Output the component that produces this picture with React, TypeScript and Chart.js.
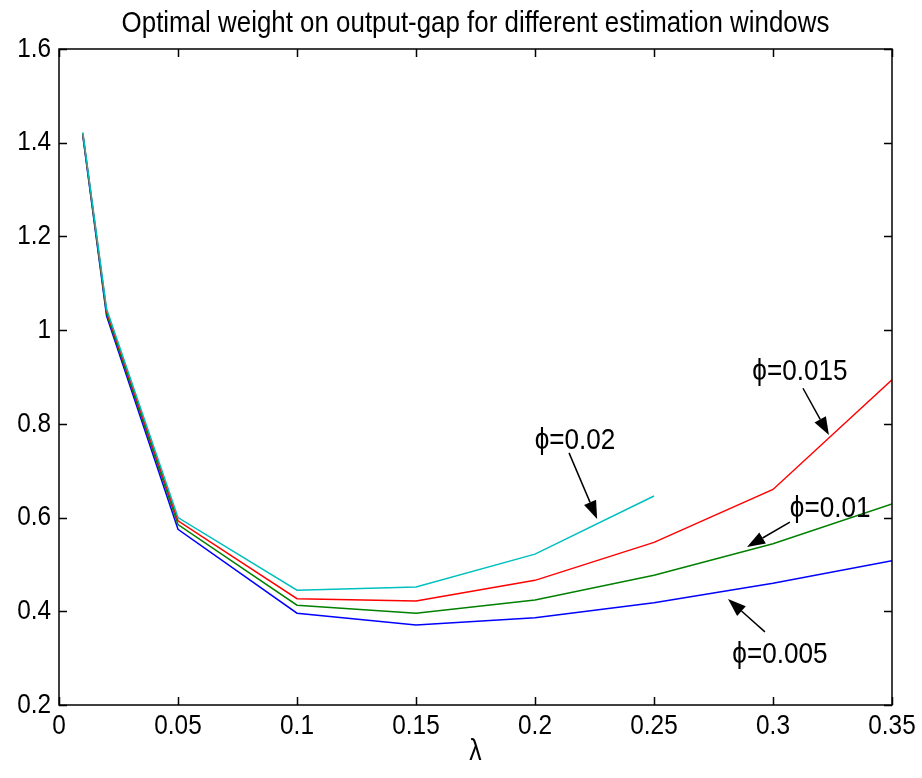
import React, { useEffect, useRef } from "react";
import { Chart, registerables } from "chart.js";

Chart.register(...registerables);

// ---- data ----
const lambdas = [0.01, 0.02, 0.05, 0.1, 0.15, 0.2, 0.25, 0.3, 0.35];
const phi005 = [1.415, 1.03, 0.575, 0.396, 0.371, 0.386, 0.418, 0.46, 0.508];
const phi01 = [1.418, 1.035, 0.585, 0.413, 0.396, 0.424, 0.477, 0.544, 0.629];
const phi015 = [1.42, 1.04, 0.593, 0.427, 0.422, 0.466, 0.547, 0.66, 0.894];
const phi02 = [1.422, 1.045, 0.6, 0.445, 0.452, 0.522, 0.646];

const xTickValues = [0, 0.05, 0.1, 0.15, 0.2, 0.25, 0.3, 0.35];
const xTickLabels = ["0", "0.05", "0.1", "0.15", "0.2", "0.25", "0.3", "0.35"];
const yTickValues = [0.2, 0.4, 0.6, 0.8, 1.0, 1.2, 1.4, 1.6];
const yTickLabels = ["0.2", "0.4", "0.6", "0.8", "1", "1.2", "1.4", "1.6"];

const titleText = "Optimal weight on output-gap for different estimation windows";
const xAxisTitle = "λ";

// annotation labels: text position and arrow (tail -> tip) in data units
const annLabels = ["ϕ=0.02", "ϕ=0.015", "ϕ=0.01", "ϕ=0.005"];
const annTextX = [0.2168, 0.3113, 0.324, 0.3029];
const annTextY = [0.763, 0.911, 0.618, 0.307];
const annTailX = [0.2143, 0.3126, 0.3071, 0.2966];
const annTailY = [0.738, 0.876, 0.5905, 0.356];
const annTipX = [0.2261, 0.3235, 0.2891, 0.2811];
const annTipY = [0.597, 0.776, 0.537, 0.426];

const FONT = "'Liberation Sans', Arial, Helvetica, 'DejaVu Sans', sans-serif";

const toPts = (ys: number[]) => ys.map((y, i) => ({ x: lambdas[i], y }));

// draws horizontally condensed text (mimics the MATLAB Helvetica export)
function drawText(
  ctx: CanvasRenderingContext2D,
  text: string,
  x: number,
  y: number,
  size: number,
  sx: number,
  align: CanvasTextAlign
) {
  ctx.save();
  ctx.translate(x, y);
  ctx.scale(sx, 1);
  ctx.font = `${size}px ${FONT}`;
  ctx.textAlign = align;
  ctx.textBaseline = "middle";
  ctx.fillStyle = "#000";
  ctx.fillText(text, 0, 0);
  ctx.restore();
}

const framePlugin = {
  id: "matlabFrame",
  afterDatasetsDraw(chart: any) {
    const { ctx, chartArea: a, scales } = chart;
    const xs = scales.x;
    const ys = scales.y;
    ctx.save();
    ctx.strokeStyle = "#000";
    ctx.lineWidth = 1.5;
    ctx.strokeRect(a.left, a.top, a.right - a.left, a.bottom - a.top);
    const L = 8;
    ctx.beginPath();
    for (const v of xTickValues) {
      const px = Math.round(xs.getPixelForValue(v)) + 0.5;
      ctx.moveTo(px, a.bottom);
      ctx.lineTo(px, a.bottom - L);
      ctx.moveTo(px, a.top);
      ctx.lineTo(px, a.top + L);
    }
    for (const v of yTickValues) {
      const py = Math.round(ys.getPixelForValue(v)) + 0.5;
      ctx.moveTo(a.left, py);
      ctx.lineTo(a.left + L, py);
      ctx.moveTo(a.right, py);
      ctx.lineTo(a.right - L, py);
    }
    ctx.stroke();

    // tick labels
    xTickValues.forEach((v, i) => {
      drawText(ctx, xTickLabels[i], xs.getPixelForValue(v), a.bottom + 21, 28, 0.87, "center");
    });
    yTickValues.forEach((v, i) => {
      drawText(ctx, yTickLabels[i], a.left - 8, ys.getPixelForValue(v), 28, 0.87, "right");
    });
    // title and axis title
    drawText(ctx, titleText, (a.left + a.right) / 2, 24, 29, 0.893, "center");
    drawText(ctx, xAxisTitle, (a.left + a.right) / 2, 752, 29, 0.85, "center");

    // annotations
    ctx.fillStyle = "#000";
    for (let i = 0; i < annLabels.length; i++) {
      const tx = xs.getPixelForValue(annTextX[i]);
      const ty = ys.getPixelForValue(annTextY[i]);
      drawText(ctx, annLabels[i], tx, ty, 29, 0.9, "center");
      const x0 = xs.getPixelForValue(annTailX[i]);
      const y0 = ys.getPixelForValue(annTailY[i]);
      const x1 = xs.getPixelForValue(annTipX[i]);
      const y1 = ys.getPixelForValue(annTipY[i]);
      const ang = Math.atan2(y1 - y0, x1 - x0);
      const hl = 18;
      const hw = 6.5;
      const bx = x1 - hl * Math.cos(ang);
      const by = y1 - hl * Math.sin(ang);
      ctx.beginPath();
      ctx.moveTo(x0, y0);
      ctx.lineTo(bx, by);
      ctx.lineWidth = 1.5;
      ctx.stroke();
      ctx.beginPath();
      ctx.moveTo(x1, y1);
      ctx.lineTo(bx + hw * Math.sin(ang), by - hw * Math.cos(ang));
      ctx.lineTo(bx - hw * Math.sin(ang), by + hw * Math.cos(ang));
      ctx.closePath();
      ctx.fill();
    }
    ctx.restore();
  },
};

export default function App() {
  const canvasRef = useRef<HTMLCanvasElement | null>(null);

  useEffect(() => {
    document.body.style.margin = "0";
    const canvas = canvasRef.current;
    if (!canvas) return;
    const chart = new Chart(canvas, {
      type: "line",
      data: {
        datasets: [
          { label: "ϕ=0.005", data: toPts(phi005), borderColor: "#0000ff", order: 4 },
          { label: "ϕ=0.01", data: toPts(phi01), borderColor: "#008000", order: 3 },
          { label: "ϕ=0.015", data: toPts(phi015), borderColor: "#ff0000", order: 2 },
          { label: "ϕ=0.02", data: toPts(phi02), borderColor: "#00bfbf", order: 1 },
        ].map((d) => ({
          ...d,
          borderWidth: 1.5,
          pointRadius: 0,
          tension: 0,
          fill: false,
        })),
      },
      options: {
        animation: false,
        responsive: false,
        maintainAspectRatio: false,
        devicePixelRatio: 1,
        layout: { padding: { left: 0, right: 30, top: 49, bottom: 0 } },
        plugins: {
          legend: { display: false },
          tooltip: { enabled: false },
          title: { display: false },
        },
        scales: {
          x: {
            type: "linear",
            min: 0,
            max: 0.35,
            grid: { display: false, drawTicks: false },
            border: { display: false },
            afterBuildTicks: (s: any) => {
              s.ticks = xTickValues.map((v) => ({ value: v }));
            },
            afterFit: (s: any) => {
              s.height = 73;
            },
            ticks: { display: false },
            title: { display: false },
          },
          y: {
            type: "linear",
            min: 0.2,
            max: 1.6,
            grid: { display: false, drawTicks: false },
            border: { display: false },
            afterBuildTicks: (s: any) => {
              s.ticks = yTickValues.map((v) => ({ value: v }));
            },
            afterFit: (s: any) => {
              s.width = 59;
            },
            ticks: { display: false },
          },
        },
      },
      plugins: [framePlugin],
    });
    return () => chart.destroy();
  }, []);

  return (
    <div style={{ position: "absolute", left: 0, top: 0, width: 922, height: 778, background: "#fff" }}>
      <canvas ref={canvasRef} width={922} height={778} style={{ width: 922, height: 778 }} />
    </div>
  );
}
